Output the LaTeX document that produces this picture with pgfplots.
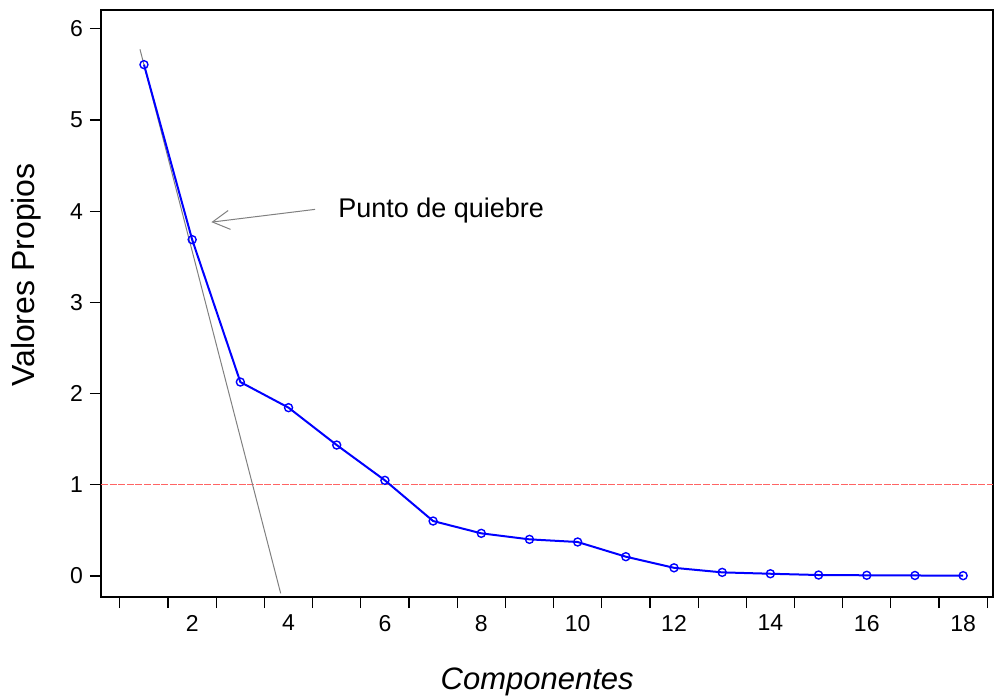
\documentclass[border=0pt]{standalone}
\usepackage{fontspec}
\setmainfont{Liberation Sans}
\usepackage{pgfplots}
\pgfplotsset{compat=1.18}
\usetikzlibrary{arrows.meta}

\definecolor{serieblue}{RGB}{0,0,255}
\definecolor{refred}{RGB}{255,100,100}

\begin{document}
\begin{tikzpicture}
    % 995x696 px reference at 0.5pt per px
    \useasboundingbox (-50.5pt,-49.5pt) rectangle (447pt,298.5pt);
    \begin{axis}[
        at={(0,0)}, anchor=south west,
        scale only axis,
        width=446pt, height=293.5pt,
        xmin=0.108, xmax=18.62,
        ymin=-0.23, ymax=6.206,
        axis line style={line width=0.6pt},
        tick align=outside,
        major tick length=5.5pt,
        minor tick length=5.5pt,
        xtick={2,4,...,18},
        minor xtick={0.5,1.5,...,18.5},
        every major x tick/.style={draw=none},
        every minor x tick/.style={draw=black, line width=0.6pt},
        ytick={0,1,...,6},
        ytick style={line width=0.6pt, black},
        xtick pos=bottom, ytick pos=left,
        tick label style={font=\fontsize{11.5pt}{13pt}\selectfont},
        /pgf/number format/assume math mode=true,
        xlabel={\textit{Componentes}},
        xlabel style={at={(axis description cs:0.489,-0.1584)}, anchor=base,
            font=\fontsize{15.5pt}{18pt}\selectfont},
        ylabel={Valores Propios},
        ylabel style={at={(axis description cs:-0.0747,0.5486)}, anchor=base, rotate=0,
            font=\fontsize{16pt}{19pt}\selectfont},
        clip=true,
    ]
        % Kaiser criterion
        \addplot[refred, line width=0.6pt, dash pattern=on 3.5pt off 0.8pt]
        coordinates {(0.108,1) (18.62,1)};

        % scree slope line
        \addplot[gray, line width=0.5pt]
        coordinates {(0.917,5.775) (3.837,-0.19)};

        % eigenvalues
        \addplot[serieblue, line width=1pt, mark=o, mark size=2pt,
            mark options={fill=white, line width=0.7pt}]
        table{
            1 5.607
            2 3.688
            3 2.127
            4 1.846
            5 1.436
            6 1.049
            7 0.603
            8 0.468
            9 0.402
            10 0.373
            11 0.212
            12 0.090
            13 0.040
            14 0.025
            15 0.011
            16 0.008
            17 0.006
            18 0.004
        };

        \draw[gray, line width=0.5pt, -{Straight Barb[length=8.5pt, width=9.5pt]}]
            (axis cs:4.55,4.02) -- (axis cs:2.4,3.88);
        \node[anchor=base west, inner sep=0pt, font=\fontsize{13.5pt}{16pt}\selectfont]
            at (axis cs:5.026,3.936) {Punto de quiebre};
    \end{axis}
\end{tikzpicture}
\end{document}
